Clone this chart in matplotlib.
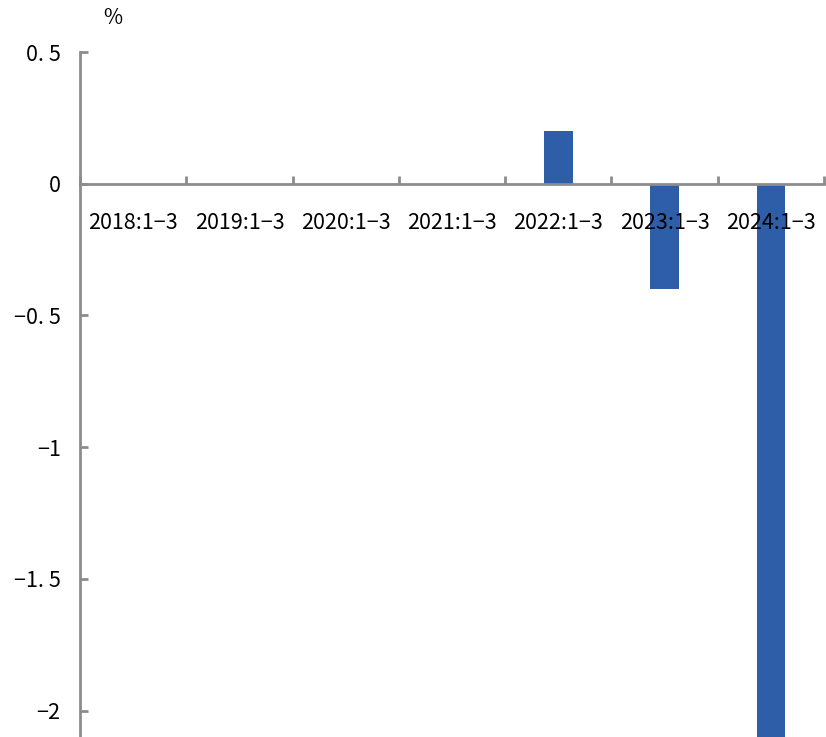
import matplotlib
matplotlib.use("Agg")
import matplotlib.pyplot as plt
import numpy as np

plt.rcParams['font.family'] = ['Noto Sans CJK SC', 'DejaVu Sans']

categories = ["2018:1−3", "2019:1−3", "2020:1−3", "2021:1−3",
              "2022:1−3", "2023:1−3", "2024:1−3"]
values = [0.0, 0.0, 0.0, 0.0, 0.2, -0.4, -2.1]
y_ticks = [0.5, 0.0, -0.5, -1.0, -1.5, -2.0]
y_tick_labels = ["0. 5", "0", "−0. 5", "−1", "−1. 5", "−2"]

bar_color = "#2f5ea8"
axis_color = "#8c8c8c"

fig = plt.figure(figsize=(8.26, 7.37), dpi=100)
ax = fig.add_axes([0.0969, 0.0, 0.9007, 0.9294])
ax.set_axisbelow(False)

x = np.arange(len(categories))
ax.bar(x, values, width=0.27, color=bar_color, zorder=2)

ax.set_xlim(-0.5, len(categories) - 0.5)
ax.set_ylim(-2.1, 0.5)

for side in ("top", "right"):
    ax.spines[side].set_visible(False)
ax.spines["bottom"].set_position(("data", 0))
for side in ("left", "bottom"):
    ax.spines[side].set_color(axis_color)
    ax.spines[side].set_linewidth(2)

ax.set_yticks(y_ticks)
ax.set_yticklabels(y_tick_labels)
ax.tick_params(axis="y", direction="in", length=6, width=2, color=axis_color,
               labelsize=15.5, pad=14)
for lbl in ax.get_yticklabels():
    lbl.set_va("center_baseline")

# category labels sit between boundary ticks
ax.set_xticks(x)
ax.set_xticklabels(categories)
ax.tick_params(axis="x", which="major", length=0, labelsize=15.5, pad=20)
ax.set_xticks(np.arange(len(categories) + 1) - 0.5, minor=True)
ax.tick_params(axis="x", which="minor", direction="out", length=6, width=2,
               color=axis_color)
for t in ax.xaxis.get_minor_ticks():
    t.tick1line.set_marker(matplotlib.markers.TICKUP)

fig.text(0.137, 0.975, "%", ha="center", va="center", fontsize=15)

fig.savefig("out.png", dpi=100)
